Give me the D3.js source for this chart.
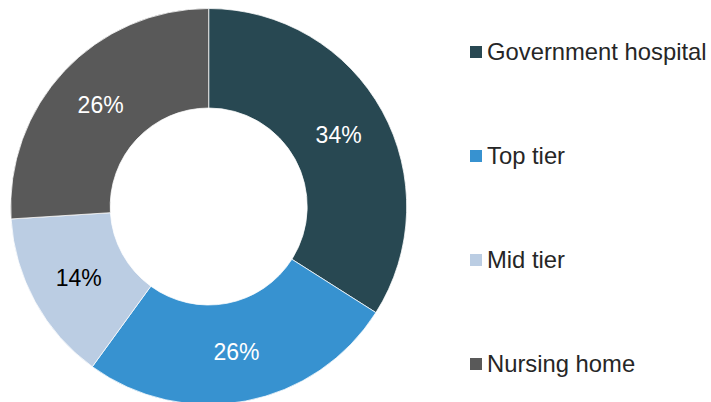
<!DOCTYPE html>
<html>
<head>
<meta charset="utf-8">
<script src="https://cdn.jsdelivr.net/npm/d3@7"></script>
<style>
  body { margin: 0; background: #fff; }
  svg { display: block; font-family: "Liberation Sans", Arial, sans-serif; }
</style>
</head>
<body>
<div id="vis1"></div>
<script>
// data
const CATEGORIES = ["Government hospital", "Top tier", "Mid tier", "Nursing home"];
const VALUES = [34, 26, 14, 26];
const COLORS = ["#284852", "#3792d0", "#bbcde3", "#595959"];
const LABEL_COLORS = ["#ffffff", "#ffffff", "#000000", "#ffffff"];

const FRAME_WIDTH = 711;
const FRAME_HEIGHT = 402;
const CX = 208.7, CY = 206.5;
const OUTER_R = 198, INNER_R = 98.5;

const FRAME1 = d3.select("#vis1")
    .append("svg")
    .attr("width", FRAME_WIDTH)
    .attr("height", FRAME_HEIGHT);

const data = CATEGORIES.map((c, i) => ({ name: c, value: VALUES[i], color: COLORS[i], label: LABEL_COLORS[i] }));

const pie = d3.pie().sort(null).value(d => d.value);
const arc = d3.arc().innerRadius(INNER_R).outerRadius(OUTER_R);

const g = FRAME1.append("g").attr("transform", `translate(${CX},${CY})`);

const arcs = pie(data);

g.selectAll("path")
    .data(arcs)
    .enter()
    .append("path")
    .attr("d", arc)
    .attr("fill", d => d.data.color)
    .attr("stroke", "#ffffff")
    .attr("stroke-width", 0.75);

// percentage labels
g.selectAll("text")
    .data(arcs)
    .enter()
    .append("text")
    .attr("transform", d => `translate(${arc.centroid(d)})`)
    .attr("text-anchor", "middle")
    .attr("dy", "0.36em")
    .attr("font-size", 23)
    .attr("fill", d => d.data.label)
    .text(d => d.data.value + "%");

// legend
const legendY = d3.scalePoint()
    .domain(CATEGORIES)
    .range([52, 364]);

const legend = FRAME1.selectAll(".legend")
    .data(data)
    .enter()
    .append("g")
    .attr("class", "legend")
    .attr("transform", d => `translate(470,${legendY(d.name)})`);

legend.append("rect")
    .attr("x", 0)
    .attr("y", -6)
    .attr("width", 12)
    .attr("height", 12)
    .attr("fill", d => d.color);

legend.append("text")
    .attr("x", 17)
    .attr("y", 0)
    .attr("dy", "0.35em")
    .attr("font-size", 23.8)
    .attr("fill", "#262626")
    .text(d => d.name);
</script>
</body>
</html>
